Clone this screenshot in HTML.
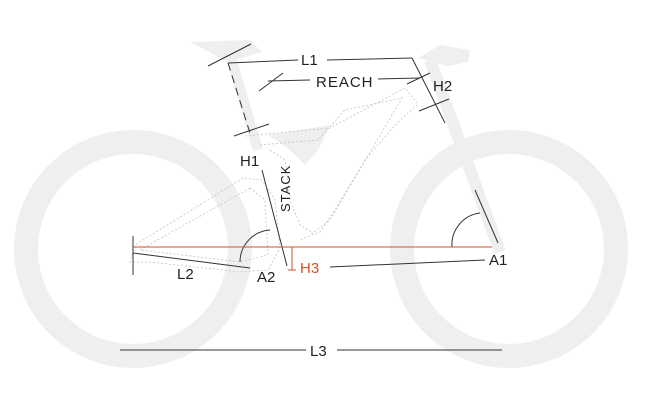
<!DOCTYPE html>
<html><head><style>
html,body{margin:0;padding:0;background:#fff;width:650px;height:400px;overflow:hidden}
text{font-family:"Liberation Sans",sans-serif;}
</style></head><body>
<svg width="650" height="400" viewBox="0 0 650 400" xmlns="http://www.w3.org/2000/svg">
<circle cx="133" cy="249" r="107" fill="none" stroke="#efefef" stroke-width="24"/>
<circle cx="509" cy="249" r="107" fill="none" stroke="#efefef" stroke-width="24"/>
<path d="M190 42 L250 40 L262 52 L228 62 Z" fill="#efefef"/>
<line x1="232" y1="60" x2="258" y2="150" stroke="#efefef" stroke-width="10"/>
<path d="M418 58 L440 45 L470 50 L468 62 L448 66 Z" fill="#efefef"/>
<line x1="430" y1="60" x2="500" y2="252" stroke="#efefef" stroke-width="12"/>
<path d="M268 135 L330 125 L318 150 L305 165 L290 150 Z" fill="#efefef"/>
<g fill="none" stroke="#c4c4c4" stroke-width="0.8" stroke-dasharray="2 2">
<path d="M245 136 L330 128 L405 88 L418 104 L395 125 L365 160 L335 210 L320 232 L300 240"/>
<path d="M260 145 L318 140 L345 110 L402 98 L392 115 L330 220 L310 235"/>
<path d="M243 178 L235 183 L135 245 L130 262 L150 262 L240 272 L268 270 L280 248 L275 200 L262 180 Z"/>
<path d="M250 188 L140 250 L240 262 L268 255 L265 200 Z"/>
<path d="M270 150 L285 160 L290 200 L300 225 L312 232"/>
</g>
<g stroke="#333" stroke-width="1" fill="none">
<line x1="228" y1="63" x2="250" y2="133" stroke-dasharray="8 5"/>
<line x1="208" y1="66" x2="251" y2="44"/>
<line x1="228" y1="63" x2="298" y2="60"/>
<line x1="327" y1="60" x2="412" y2="58"/>
<line x1="412" y1="58" x2="445" y2="123"/>
<line x1="419" y1="111" x2="449" y2="99"/>
<line x1="259" y1="91" x2="283" y2="73"/>
<line x1="268" y1="81" x2="310" y2="80"/>
<line x1="378" y1="79" x2="420" y2="78"/>
<line x1="407" y1="84" x2="430" y2="73"/>
<line x1="234" y1="136" x2="269" y2="124"/>
<line x1="262" y1="170" x2="287" y2="266"/>
<line x1="133" y1="236" x2="133" y2="275"/>
<line x1="133" y1="253" x2="250" y2="268"/>
<path d="M240 262 A32 32 0 0 1 270 230"/>
<line x1="475" y1="190" x2="498" y2="243"/>
<path d="M452 247 A32 32 0 0 1 480 213"/>
<line x1="330" y1="267" x2="485" y2="260"/>
<line x1="120" y1="350" x2="306" y2="350"/>
<line x1="337" y1="350" x2="502" y2="350"/>
</g>
<g stroke="#d2522a" stroke-width="1">
<line x1="133" y1="247" x2="492" y2="247"/>
<line x1="292" y1="247" x2="292" y2="270"/>
<line x1="288" y1="270" x2="296" y2="270"/>
</g>
<g fill="#222" font-size="15">
<text x="301" y="65">L1</text>
<text x="316" y="87" letter-spacing="1">REACH</text>
<text x="433" y="91">H2</text>
<text x="240" y="166">H1</text>
<text x="290" y="212" font-size="13" letter-spacing="1" transform="rotate(-90 290 212)">STACK</text>
<text x="177" y="279">L2</text>
<text x="257" y="282">A2</text>
<text x="489" y="265">A1</text>
<text x="310" y="356">L3</text>
<text x="300" y="273" fill="#d2522a">H3</text>
</g>
</svg>
</body></html>
